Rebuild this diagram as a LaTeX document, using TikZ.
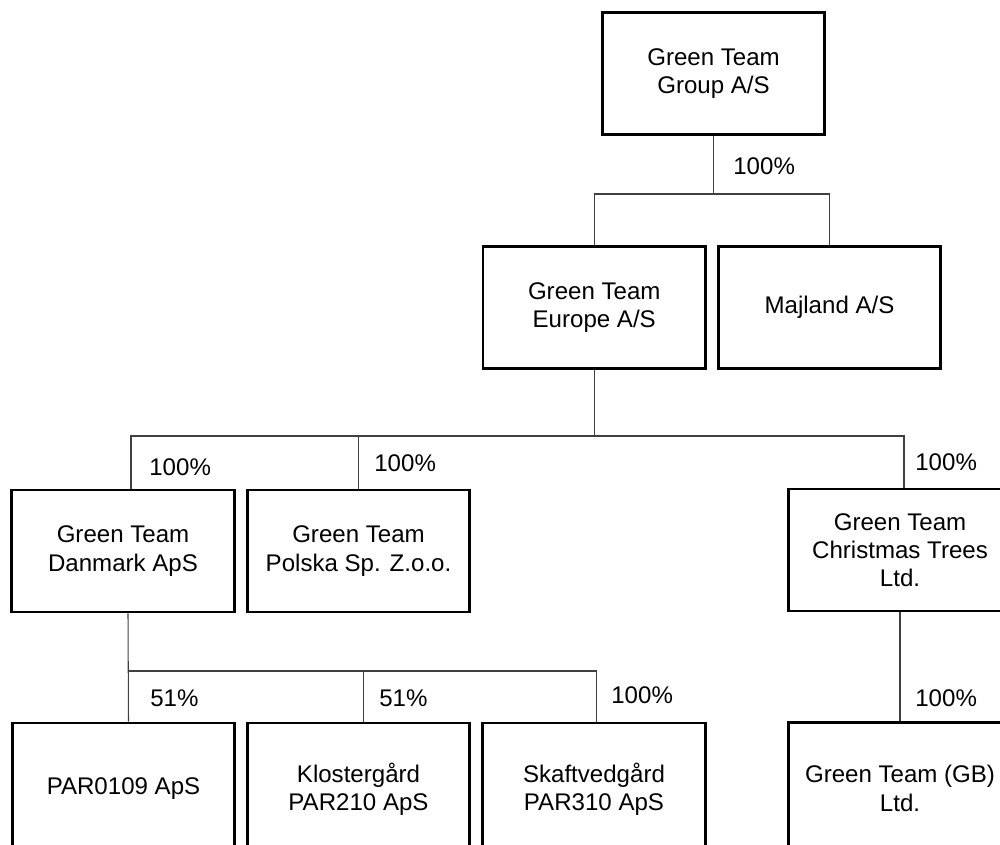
\documentclass[tikz,border=0pt]{standalone}
\usepackage{fontspec}
\setmainfont{Liberation Sans}
\usepackage{tikz}
\usetikzlibrary{positioning, calc}

\begin{document}
\begin{tikzpicture}[
    company/.style={draw, line width=1.6pt, fill=white, align=center,
                    minimum width=4.45cm, minimum height=2.44cm, inner sep=2pt,
                    font=\fontsize{13.7}{16.1}\selectfont},
    tall/.style={minimum height=2.64cm},
    link/.style={line width=0.6pt, black!75},
    share/.style={anchor=west, inner sep=0pt, font=\fontsize{13.7}{16.1}\selectfont},
]
    \useasboundingbox (0, 0) rectangle (20, -16.88);
    \clip (0, 0) rectangle (20, -16.88);

    % === holding ===
    \node[company] (group) at (14.27, -1.474) {Green Team\\Group A/S};

    % === second level ===
    \node[company] (europe) at (11.885, -6.15) {Green Team\\Europe A/S};
    \node[company] (majland) at (16.59, -6.15) {Majland A/S};

    % === third level ===
    \node[company] (danmark) at (2.46, -11.02) {Green Team\\Danmark ApS};
    \node[company] (polska) at (7.17, -11.02) {Green Team\\Polska Sp. Z.o.o.};
    \node[company] (xmas) at (18.0, -11.0) {Green Team\\Christmas Trees\\Ltd.};

    % === fourth level (cut by the page edge) ===
    \node[company, tall] (par0109) at (2.47, -15.78) {PAR0109 ApS};
    \node[company, tall] (kloster) at (7.17, -15.78) {Klostergård\\PAR210 ApS};
    \node[company, tall] (skaft) at (11.88, -15.78) {Skaftvedgård\\PAR310 ApS};
    \node[company, tall] (gb) at (18.0, -15.77) {Green Team (GB)\\Ltd.};

    % Bus lines
    \coordinate (bus1) at (0, -3.88);
    \coordinate (bus2) at (0, -8.72);
    \coordinate (bus3) at (0, -13.42);

    % group -> europe, majland
    \draw[link] (group.south) -- (group.south |- bus1);
    \draw[link] (europe.north) |- (majland.north |- bus1) -- (majland.north);
    \node[share] at (14.66, -3.32) {100\%};

    % europe -> danmark, polska, xmas
    \draw[link] (europe.south) -- (europe.south |- bus2);
    \draw[link] ([xshift=0.16cm]danmark.north) |- ([xshift=0.08cm]xmas.north |- bus2)
        -- ([xshift=0.08cm]xmas.north);
    \draw[link] (polska.north) -- (polska.north |- bus2);
    \node[share] at (2.98, -9.34) {100\%};
    \node[share] at (7.48, -9.26) {100\%};
    \node[share] at (18.3, -9.24) {100\%};

    % danmark -> par0109, kloster, skaft
    \draw[link] ([xshift=0.1cm]danmark.south) -- ([xshift=0.1cm]par0109.north);
    \draw[link] ([xshift=0.1cm]danmark.south |- bus3) -| ([xshift=0.05cm]skaft.north);
    \draw[link] ([xshift=0.1cm]kloster.north) -- ([xshift=0.1cm]kloster.north |- bus3);
    \node[share] at (3.0, -13.96) {51\%};
    \node[share] at (7.58, -13.96) {51\%};
    \node[share] at (12.22, -13.9) {100\%};

    % xmas -> gb
    \draw[link] (xmas.south) -- (gb.north);
    \node[share] at (18.3, -13.96) {100\%};
\end{tikzpicture}
\end{document}
